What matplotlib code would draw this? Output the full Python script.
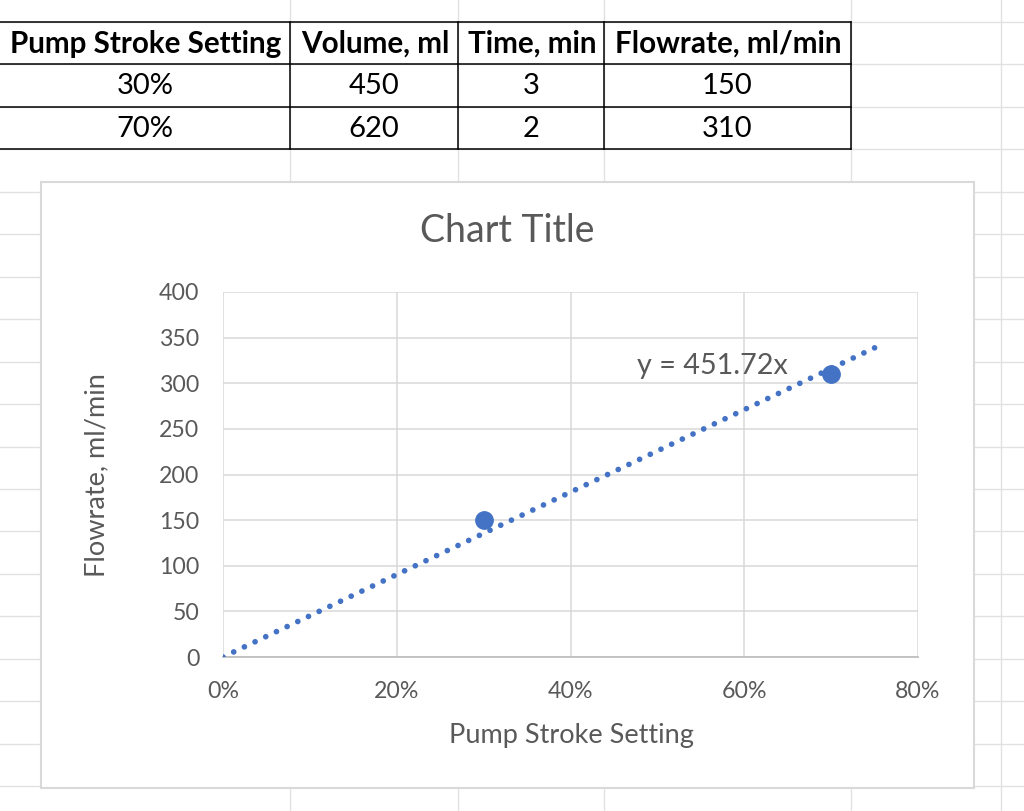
import matplotlib
matplotlib.use("Agg")
import matplotlib.pyplot as plt
import numpy as np

# ---- data ----
headers = ["Pump Stroke Setting", "Volume, ml", "Time, min", "Flowrate, ml/min"]
stroke_labels = ["30%", "70%"]
volumes = [450, 620]
times = [3, 2]
flowrates = [150, 310]
stroke = [0.30, 0.70]
slope = 451.72
trend_end = 0.75
x_ticks = [0.0, 0.2, 0.4, 0.6, 0.8]
x_ticklabels = ["0%", "20%", "40%", "60%", "80%"]
y_ticks = [0, 50, 100, 150, 200, 250, 300, 350, 400]

W, H = 1024, 811
FONT = ["Lato", "DejaVu Sans"]
GRAY = "#595959"
BLUE = "#4472C4"

fig = plt.figure(figsize=(W / 100, H / 100), dpi=100)
bg = fig.add_axes([0, 0, 1, 1])
bg.set_xlim(0, W)
bg.set_ylim(H, 0)
bg.axis("off")

# spreadsheet cell grid
col_x = [290, 458, 604, 851, 1001]
row_step = 42.45
row_y = [22 + row_step * k for k in range(19)]
for x in col_x:
    bg.plot([x, x], [0, H], color="#e1e1e1", lw=1.0, zorder=0)
for y in row_y:
    bg.plot([0, W], [y, y], color="#e1e1e1", lw=1.0, zorder=0)

# table borders
tx = [0, 290, 458, 604, 851]
ty = [22, 64, 107, 149]
for y in ty:
    bg.plot([0, 851], [y, y], color="black", lw=1.1, zorder=2)
for x in tx[1:]:
    bg.plot([x, x], [22, 149], color="black", lw=1.1, zorder=2)

col_centers = [(tx[i] + tx[i + 1]) / 2 for i in range(4)]
for i, h in enumerate(headers):
    bg.text(col_centers[i] + 1, 44, h, ha="center", va="center", fontsize=21.3,
            fontweight="bold", family=FONT, color="black")
rows = [[stroke_labels[i], str(volumes[i]), str(times[i]), str(flowrates[i])] for i in range(2)]
for r, row in enumerate(rows):
    yc = (ty[r + 1] + ty[r + 2]) / 2 + 1
    for i, v in enumerate(row):
        bg.text(col_centers[i], yc, v, ha="center", va="center", fontsize=21,
                family=FONT, color="black")

# chart frame
bg.add_patch(plt.Rectangle((41, 182), 933, 606, facecolor="white",
                           edgecolor="#d9d9d9", lw=1.5, zorder=3))

# plot axes
L, R, T, B = 223, 918, 292, 657
ax = fig.add_axes([L / W, 1 - B / H, (R - L) / W, (B - T) / H])
ax.set_zorder(5)
ax.patch.set_alpha(0)
ax.set_xlim(0, 0.8)
ax.set_ylim(0, 400)
ax.set_xticks(x_ticks)
ax.set_xticklabels(x_ticklabels)
ax.set_yticks(y_ticks)
ax.grid(True, color="#d9d9d9", lw=1.1)
ax.set_axisbelow(True)
for s in ["top", "right", "left"]:
    ax.spines[s].set_visible(False)
ax.spines["bottom"].set_color("#bfbfbf")
ax.spines["bottom"].set_linewidth(1.3)
ax.tick_params(length=0, labelsize=16.7, labelcolor=GRAY, pad=17)
for lab in ax.get_xticklabels() + ax.get_yticklabels():
    lab.set_family(FONT)

# trendline (dotted, spacing fitted so a dot lands on both ends)
tx_line = np.array([0.0, trend_end])
ty_line = slope * tx_line
lw_pt = 4.1
p = ax.transData.transform(np.column_stack([tx_line, ty_line]))
length_px = float(np.hypot(*(p[1] - p[0])))
lw_px = lw_pt * 100 / 72
n = max(1, round(length_px / 11.85))
gap = length_px / n / lw_px - 0.01
ax.plot(tx_line, ty_line, color=BLUE, lw=lw_pt,
        linestyle=(0, (0.01, gap)), dash_capstyle="round", zorder=3, clip_on=True)
ax.plot(stroke, flowrates, "o", color=BLUE, markersize=12.5, zorder=4, clip_on=False)
ax.text(0.563, 319, f"y = {slope}x", fontsize=20.7, color=GRAY, family=FONT,
        ha="center", va="center")

# titles
bg.text(507, 231, "Chart Title", ha="center", va="center", fontsize=27,
        color=GRAY, family=FONT, zorder=6)
bg.text(571, 735, "Pump Stroke Setting", ha="center", va="center", fontsize=19.5,
        color=GRAY, family=FONT, zorder=6)
bg.text(97, 475, "Flowrate, ml/min", ha="center", va="center", fontsize=19.5,
        color=GRAY, family=FONT, rotation=90, zorder=6)

fig.savefig("out.png", dpi=100)
